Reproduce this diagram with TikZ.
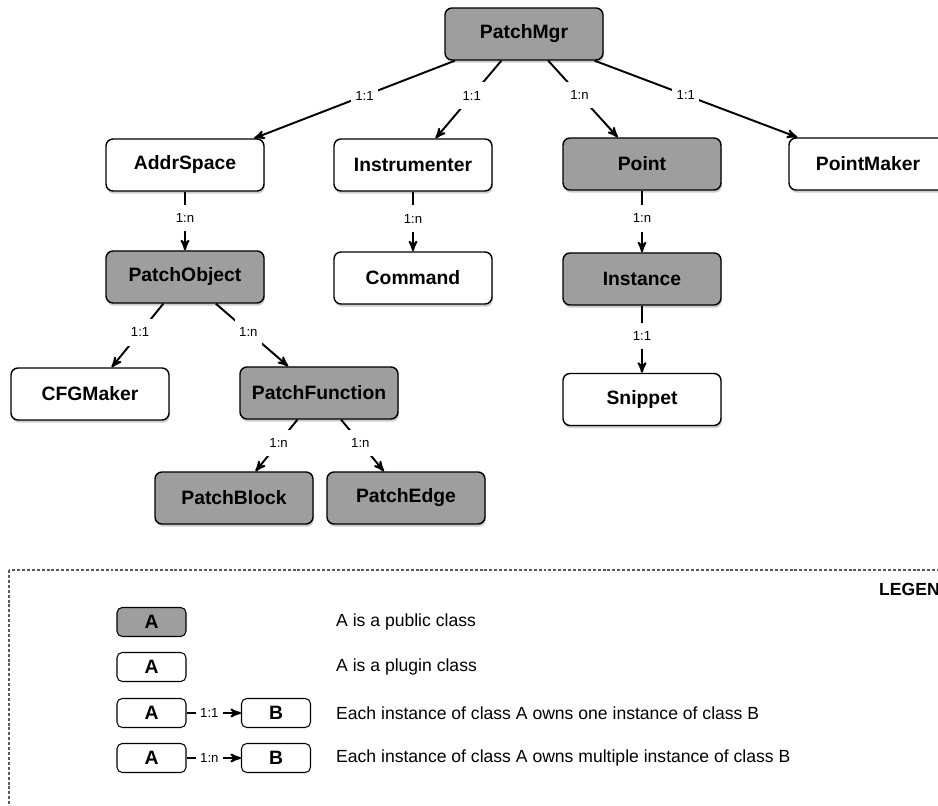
\documentclass[tikz,border=0pt]{standalone}
\usepackage{fontspec}
\setmainfont{Liberation Sans}
\usepackage{tikz}
\usetikzlibrary{arrows}
\usetikzlibrary{shapes,arrows}
\usetikzlibrary{positioning}
\usetikzlibrary{shadows}
\tikzset{
	>=stealth',
    plugclass/.style={draw=black, line width=0.8pt, rounded corners=4pt, fill=white,
        minimum width=3.16cm, minimum height=1.04cm,
        font=\bfseries\fontsize{11}{13}\selectfont,
        drop shadow={shadow xshift=0.5pt, shadow yshift=-1.5pt, opacity=0.4}},
    pubclass/.style={plugclass, fill=black!38},
    mult/.style={fill=white, inner xsep=2.5pt, inner ysep=5pt, pos=0.45,
        font=\fontsize{7.5}{9}\selectfont},
    legclass/.style={draw=black, line width=0.6pt, rounded corners=3pt, fill=white,
        minimum width=1.38cm, minimum height=0.58cm,
        font=\bfseries\fontsize{11}{13}\selectfont},
    legpub/.style={legclass, fill=black!38},
    legtext/.style={anchor=west, font=\fontsize{10}{12}\selectfont},
    legframe/.style={draw=black!65, line width=0.6pt, dash pattern=on 1.7pt off 1.1pt},
}
\tikzstyle{line} = [draw, line width=1.1pt, ->]

\begin{document}
\begin{tikzpicture}
	\clip (0,0) rectangle (18.76,-16.12);
	% classes
	\node[pubclass] (mgr) at (10.48,-0.68) {PatchMgr};
	\node[plugclass] (addr) at (3.70,-3.30) {AddrSpace};
	\node[plugclass] (instr) at (8.26,-3.30) {Instrumenter};
	\node[pubclass] (point) at (12.84,-3.28) {Point};
	\node[plugclass] (pmaker) at (17.36,-3.28) {PointMaker};
	\node[pubclass] (pobj) at (3.70,-5.54) {PatchObject};
	\node[plugclass] (cmd) at (8.26,-5.56) {Command};
	\node[pubclass] (inst) at (12.84,-5.58) {Instance};
	\node[plugclass] (cfg) at (1.80,-7.88) {CFGMaker};
	\node[pubclass] (pfunc) at (6.38,-7.86) {PatchFunction};
	\node[plugclass] (snip) at (12.84,-7.99) {Snippet};
	\node[pubclass] (pblock) at (4.68,-9.96) {PatchBlock};
	\node[pubclass] (pedge) at (8.12,-9.96) {PatchEdge};
	% ownership
	\draw[line] (mgr) -- node[mult] {1:1} (addr);
	\draw[line] (mgr) -- node[mult] {1:1} (instr);
	\draw[line] (mgr) -- node[mult] {1:n} (point);
	\draw[line] (mgr) -- node[mult] {1:1} (pmaker);
	\draw[line] (addr) -- node[mult] {1:n} (pobj);
	\draw[line] (instr) -- node[mult] {1:n} (cmd);
	\draw[line] (point) -- node[mult] {1:n} (inst);
	\draw[line] (inst) -- node[mult] {1:1} (snip);
	\draw[line] (pobj) -- node[mult] {1:1} (cfg);
	\draw[line] (pobj) -- node[mult] {1:n} (pfunc);
	\draw[line] (pfunc) -- node[mult] {1:n} (pblock);
	\draw[line] (pfunc) -- node[mult] {1:n} (pedge);
	% legend
	\draw[legframe] (0.18,-11.40) rectangle (19.2,-16.6);
	\node[anchor=west, font=\bfseries\fontsize{10}{12}\selectfont] (legtitle) at (17.46,-11.78) {LEGEND};
	\node[legpub] (lpub) at (3.03,-12.44) {A};
	\node[legtext] (tpub) at (6.60,-12.44) {A is a public class};
	\node[legclass] (lplug) at (3.03,-13.34) {A};
	\node[legtext] (tplug) at (6.60,-13.34) {A is a plugin class};
	\node[legclass] (lonea) at (3.03,-14.26) {A};
	\node[legclass] (loneb) at (5.52,-14.26) {B};
	\node[legtext] (tone) at (6.60,-14.26) {Each instance of class A owns one instance of class B};
	\node[legclass] (lmanya) at (3.03,-15.16) {A};
	\node[legclass] (lmanyb) at (5.52,-15.16) {B};
	\node[legtext] (tmany) at (6.60,-15.16) {Each instance of class A owns multiple instance of class B};
	\draw[line] (lonea) -- node[mult, pos=0.42, inner ysep=2pt] {1:1} (loneb);
	\draw[line] (lmanya) -- node[mult, pos=0.42, inner ysep=2pt] {1:n} (lmanyb);
\end{tikzpicture}
\end{document}
